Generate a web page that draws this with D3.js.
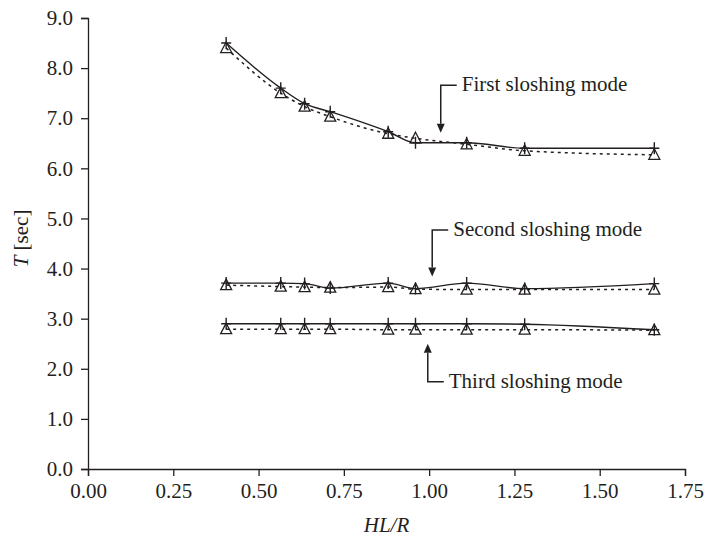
<!DOCTYPE html>
<html>
<head>
<meta charset="utf-8">
<script src="https://cdn.jsdelivr.net/npm/d3@7"></script>
<style>
  body { margin: 0; background: #fff; }
  svg text { font-family: "Liberation Serif", "Times New Roman", serif; fill: #231f20; }
</style>
</head>
<body>
<svg id="chart" width="712" height="538"></svg>
<script>
// HL/R values where the periods were computed
var ratios = [0.405, 0.565, 0.635, 0.71, 0.88, 0.96, 1.11, 1.28, 1.66];

// solid line with + markers
var firstSolid  = [8.50, 7.60, 7.29, 7.13, 6.73, 6.51, 6.51, 6.40, 6.40];
var secondSolid = [3.71, 3.71, 3.70, 3.61, 3.71, 3.60, 3.71, 3.60, 3.70];
var thirdSolid  = [2.90, 2.90, 2.90, 2.90, 2.90, 2.90, 2.90, 2.89, 2.78];

// dotted line with triangle markers
var firstDotted  = [8.40, 7.50, 7.23, 7.03, 6.69, 6.60, 6.48, 6.35, 6.27];
var secondDotted = [3.67, 3.64, 3.63, 3.62, 3.63, 3.59, 3.58, 3.58, 3.58];
var thirdDotted  = [2.79, 2.79, 2.79, 2.79, 2.78, 2.78, 2.78, 2.78, 2.77];

var xTicks = [0, 0.25, 0.5, 0.75, 1, 1.25, 1.5, 1.75];
var yTicks = [0, 1, 2, 3, 4, 5, 6, 7, 8, 9];

var labels = ["First sloshing mode", "Second sloshing mode", "Third sloshing mode"];

var ink = "#231f20";
var svg = d3.select("#chart");

var x = d3.scaleLinear().domain([0, 1.75]).range([88, 685]);
var y = d3.scaleLinear().domain([0, 9]).range([469, 18]);

// axes
var xAxis = svg.append("g")
  .attr("transform", "translate(0," + y(0) + ")")
  .call(d3.axisBottom(x).tickValues(xTicks).tickSize(7).tickPadding(7)
    .tickFormat(d3.format(".2f")));
var yAxis = svg.append("g")
  .attr("transform", "translate(" + x(0) + ",0)")
  .call(d3.axisLeft(y).tickValues(yTicks).tickSize(7).tickPadding(8)
    .tickFormat(d3.format(".1f")));
[xAxis, yAxis].forEach(function (g) {
  g.select(".domain").attr("stroke", ink).attr("stroke-width", 1.3);
  g.selectAll(".tick line").attr("stroke", ink).attr("stroke-width", 1.3);
  g.selectAll(".tick text").style("font-family", "Liberation Serif")
    .style("font-size", "21px").attr("fill", ink);
});

// axis titles
svg.append("text")
  .attr("x", x(0.875)).attr("y", 532)
  .attr("text-anchor", "middle")
  .style("font-size", "21px").style("font-style", "italic")
  .text("HL/R");
var yt = svg.append("text")
  .attr("transform", "translate(28," + y(4.6) + ") rotate(-90)")
  .attr("text-anchor", "middle")
  .style("font-size", "21px");
yt.append("tspan").style("font-style", "italic").text("T");
yt.append("tspan").text(" [sec]");

// series
var solids = [firstSolid, secondSolid, thirdSolid];
var dotteds = [firstDotted, secondDotted, thirdDotted];

var line = d3.line()
  .x(function (d) { return x(d[0]); })
  .y(function (d) { return y(d[1]); })
  .curve(d3.curveMonotoneX);

dotteds.forEach(function (vals) {
  var pts = d3.zip(ratios, vals);
  svg.append("path").datum(pts)
    .attr("d", line)
    .attr("fill", "none").attr("stroke", ink)
    .attr("stroke-width", 1.5).attr("stroke-dasharray", "3,4");
  svg.append("g").selectAll("path").data(pts).enter().append("path")
    .attr("transform", function (d) { return "translate(" + x(d[0]) + "," + y(d[1]) + ")"; })
    .attr("d", "M0,-6L5.5,4.5L-5.5,4.5Z")
    .attr("fill", "none")
    .attr("stroke", ink).attr("stroke-width", 1.3);
});

solids.forEach(function (vals) {
  var pts = d3.zip(ratios, vals);
  svg.append("path").datum(pts)
    .attr("d", line)
    .attr("fill", "none").attr("stroke", ink).attr("stroke-width", 1.4);
  svg.append("g").selectAll("path").data(pts).enter().append("path")
    .attr("transform", function (d) { return "translate(" + x(d[0]) + "," + y(d[1]) + ")"; })
    .attr("d", "M-5,0H5M0,-6V6")
    .attr("fill", "none").attr("stroke", ink).attr("stroke-width", 1.4);
});

// annotations: bracket arrows pointing at each group
var notes = [
  { label: labels[0], ax: 1.034, bend: 7.66, tip: 6.71, dir: "down" },
  { label: labels[1], ax: 1.009, bend: 4.77, tip: 3.84, dir: "down" },
  { label: labels[2], ax: 0.996, bend: 1.74, tip: 2.50, dir: "up" }
];
notes.forEach(function (n) {
  var ax = x(n.ax), by = y(n.bend), ty = y(n.tip);
  var head = n.dir === "down" ? -9 : 9;
  svg.append("path")
    .attr("d", "M" + (ax + 16) + "," + by + "H" + ax + "V" + (ty + head))
    .attr("fill", "none").attr("stroke", ink).attr("stroke-width", 1.5);
  svg.append("path")
    .attr("d", "M" + ax + "," + ty + "L" + (ax - 4) + "," + (ty + head) + "L" + (ax + 4) + "," + (ty + head) + "Z")
    .attr("fill", ink);
  svg.append("text")
    .attr("x", ax + 21).attr("y", by + 6)
    .style("font-size", "21px")
    .text(n.label);
});
</script>
</body>
</html>
